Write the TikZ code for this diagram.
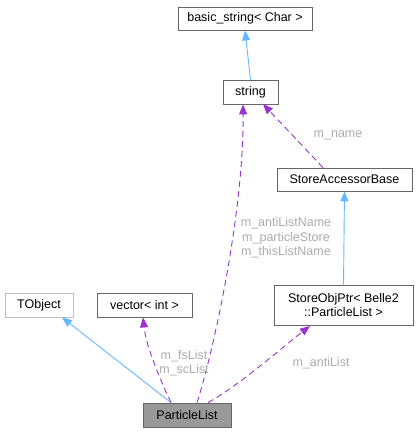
\documentclass[tikz,border=0pt]{standalone}
\usepackage{fontspec}
\setmainfont{Liberation Sans}
\usetikzlibrary{arrows.meta}
\definecolor{inh}{HTML}{63B8FF}
\definecolor{use}{HTML}{9A32CD}
\definecolor{lbl}{HTML}{ABABAB}
\definecolor{bord}{HTML}{666666}
\tikzset{
  cls/.style={draw=bord, line width=0.8pt, fill=white, inner sep=0pt, align=center,
    font=\fontsize{12.5}{14.5}\selectfont},
  inherit/.style={draw=inh, line width=0.9pt, -{Triangle[length=10pt,width=8pt]}},
  usage/.style={draw=use, line width=0.9pt, dash pattern=on 6pt off 4pt, -{Triangle[length=10pt,width=8pt,fill=use]}},
  elabel/.style={text=lbl, font=\fontsize{12.5}{14.5}\selectfont, align=center, inner sep=0pt},
}
\begin{document}
\begin{tikzpicture}[x=1pt,y=-1pt]
\useasboundingbox (0,0) rectangle (418,433);
\node[cls, minimum width=134pt, minimum height=23pt] (bs) at (245,18.5) {basic\_string< Char >};
\node[cls, minimum width=55pt, minimum height=24pt] (str) at (250.5,92) {string};
\node[cls, minimum width=135pt, minimum height=23pt] (sab) at (344.5,179.5) {StoreAccessorBase};
\node[cls, minimum width=139pt, minimum height=40pt] (sop) at (343.5,305) {StoreObjPtr< Belle2\\::ParticleList >};
\node[cls, draw=black!25, minimum width=68pt, minimum height=24pt] (tob) at (39,305) {TObject};
\node[cls, minimum width=95pt, minimum height=24pt] (vec) at (144.5,305) {vector< int >};
\node[cls, fill=black!40, minimum width=88pt, minimum height=24pt] (pl) at (187,415) {ParticleList};

\path[inherit] (str.north) -- (bs.south);
\path[inherit] (sop.north) -- (sab.south);
\path[inherit] (pl.north -| 171,0) -- (tob.south -| 62,0);

\path[usage] (sab.north -| 323,0) -- (263,104);
\path[usage] (pl.north -| 171,0) .. controls (158,375) and (146,345) .. (vec.south -| 143,0);
\path[usage] (pl.north -| 197,0) .. controls (214,350) and (244,210) .. (str.south -| 243,0);
\path[usage] (pl.north -| 208,0) .. controls (240,385) and (285,345) .. (310,326);

\node[elabel] (l1) at (338,135) {m\_name};
\node[elabel] (l2) at (286,238) {m\_antiListName\\m\_particleStore\\m\_thisListName};
\node[elabel] (l3) at (184,363) {m\_fsList\\m\_scList};
\node[elabel] (l4) at (321,363) {m\_antiList};
\end{tikzpicture}
\end{document}
